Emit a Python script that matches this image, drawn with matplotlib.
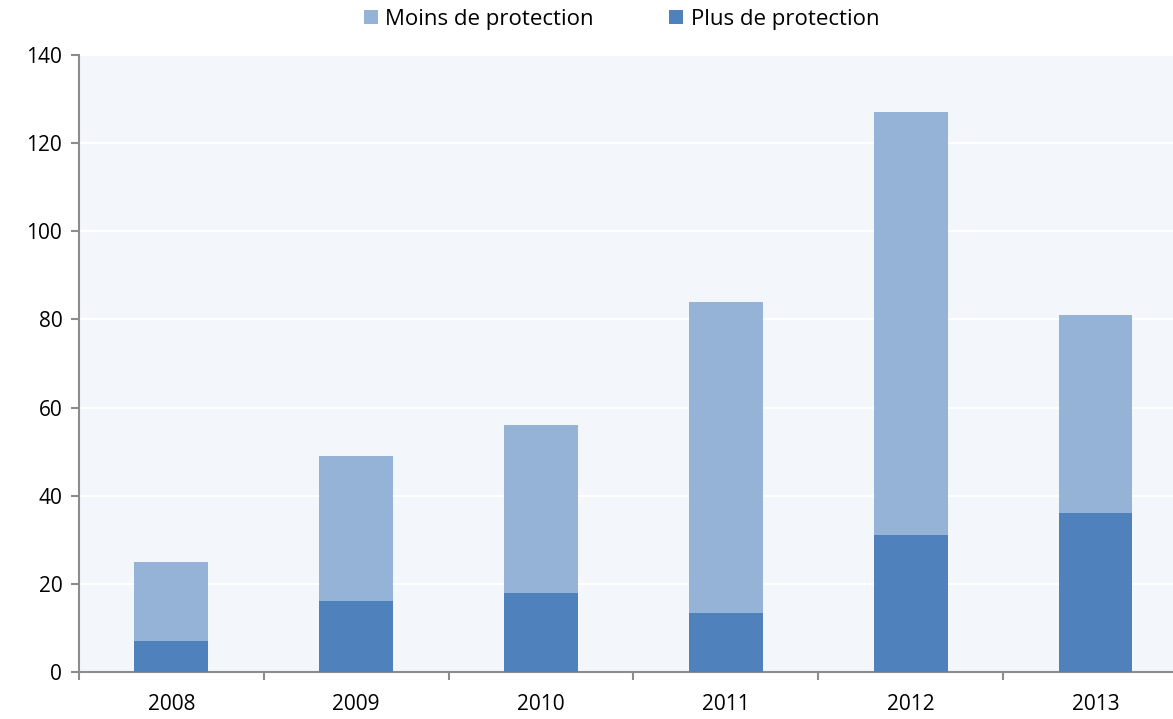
import matplotlib
matplotlib.use("Agg")
import matplotlib.pyplot as plt
from matplotlib.ticker import FixedLocator, NullFormatter
import numpy as np

# data
years = ["2008", "2009", "2010", "2011", "2012", "2013"]
plus = [7, 16, 18, 13.4, 31, 36]
moins = [18, 33, 38, 70.6, 96, 45]

plt.rcParams['font.family'] = ['Open Sans', 'DejaVu Sans']

fig = plt.figure(figsize=(11.73, 7.19), dpi=100)
# plot area runs slightly past the right edge of the image, as in the reference
ax = fig.add_axes([0.0673, 0.0654, 0.9454, 0.8581])
ax.set_facecolor("#F3F6FA")

x = np.arange(len(years))
ax.bar(x, plus, width=0.4, color="#4F81BD", label="Plus de protection", zorder=3)
ax.bar(x, moins, width=0.4, bottom=plus, color="#95B3D7", label="Moins de protection", zorder=3)

ax.set_xlim(-0.5, len(years) - 0.5)
ax.set_ylim(0, 140)
ax.set_yticks(range(0, 141, 20))
ax.yaxis.grid(True, color="white", linewidth=1.5, zorder=0)
ax.set_axisbelow(True)

ax.set_xticks(x)
ax.set_xticklabels(years)
ax.xaxis.set_minor_locator(FixedLocator(np.arange(-0.5, len(years), 1.0)))
ax.xaxis.set_minor_formatter(NullFormatter())
ax.tick_params(axis="x", which="major", length=0, pad=16, labelsize=15)
ax.tick_params(axis="x", which="minor", length=6, color="#8C8C8C", width=1.5)
ax.tick_params(axis="y", length=6, color="#8C8C8C", width=1.5, labelsize=15, pad=6)

for side in ["top", "right"]:
    ax.spines[side].set_visible(False)
for side in ["left", "bottom"]:
    ax.spines[side].set_color("#8C8C8C")
    ax.spines[side].set_linewidth(1.5)

handles, labels = ax.get_legend_handles_labels()
leg = fig.legend(handles[::-1], labels[::-1], loc="center", bbox_to_anchor=(0.53, 0.973),
                 ncol=2, frameon=False, fontsize=16, handlelength=0.6, handleheight=0.6,
                 handletextpad=0.35, columnspacing=3.4)

fig.savefig("out.png", dpi=100)
